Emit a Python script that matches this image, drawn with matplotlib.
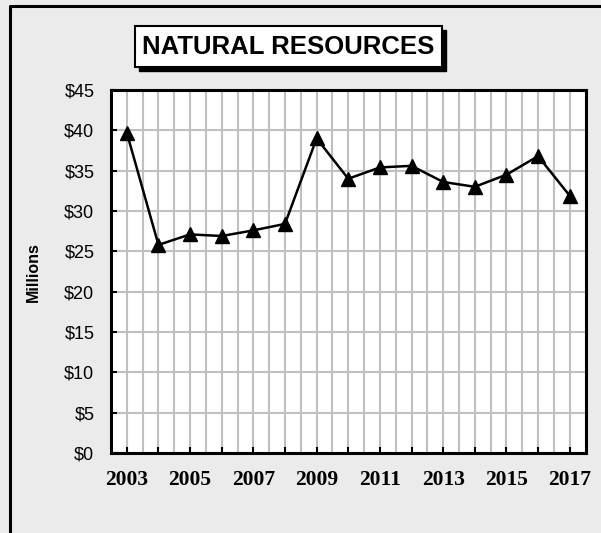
import numpy as np
import matplotlib.pyplot as plt
from matplotlib.patches import Rectangle
from matplotlib.lines import Line2D

years = [2003, 2004, 2005, 2006, 2007, 2008, 2009, 2010,
         2011, 2012, 2013, 2014, 2015, 2016, 2017]
values = [39.7, 25.8, 27.1, 26.9, 27.6, 28.4, 39.0, 34.0,
          35.4, 35.6, 33.6, 33.0, 34.5, 36.8, 31.9]
title = "NATURAL RESOURCES"
ylabel = "Millions"

W, H = 601, 533
fig = plt.figure(figsize=(W / 100, H / 100), dpi=100, facecolor="#ebebeb")

# outer frame: only left and top edges show, the rest runs off the image
fig.lines.append(Line2D([9.5 / W, 9.5 / W, 1.0], [0.0, 1 - 6 / H, 1 - 6 / H],
                        transform=fig.transFigure, color="black", linewidth=2.2))

ax = fig.add_axes([111 / W, 80 / H, 474.5 / W, 363 / H])
ax.set_facecolor("white")
ax.plot(years, values, color="black", linewidth=1.8, marker="^",
        markersize=10, markerfacecolor="black", zorder=3)

ax.set_xlim(2002.5, 2017.5)
ax.set_ylim(0, 45)
ax.set_xticks(years)
ax.set_xticklabels([str(y) if (y - 2003) % 2 == 0 else "" for y in years])
ax.set_xticks(np.arange(2002.5, 2017.6, 0.5), minor=True)
ax.set_yticks(range(0, 46, 5))
ax.set_yticklabels(["$%d" % v for v in range(0, 46, 5)])

ax.grid(True, which="both", axis="x", color="#c0c0c0", linewidth=1.5, zorder=1)
ax.grid(True, which="major", axis="y", color="#c0c0c0", linewidth=1.5, zorder=1)
ax.set_axisbelow(True)
ax.tick_params(axis="x", which="major", direction="in", length=4, width=1.5, pad=12)
ax.tick_params(axis="x", which="minor", length=0)
ax.tick_params(axis="y", direction="in", length=4, width=1.5, pad=12)
for lab in ax.get_xticklabels():
    lab.set_family("Liberation Serif")
    lab.set_weight("bold")
    lab.set_fontsize(15.5)
for lab in ax.get_yticklabels():
    lab.set_family("Liberation Sans")
    lab.set_fontsize(13)
for s in ax.spines.values():
    s.set_linewidth(2.2)
    s.set_color("black")

fig.text(33 / W, 1 - 272 / H, ylabel, rotation=90, ha="center", va="center",
         family="Liberation Sans", weight="bold", fontsize=11.5)

# title box with shadow
bx0, bx1, by0, by1 = 135, 442, 26, 67
fig.patches.append(Rectangle(((bx0 + 4) / W, 1 - (by1 + 4) / H), (bx1 - bx0) / W,
                             (by1 - by0) / H, transform=fig.transFigure,
                             facecolor="black", edgecolor="black", zorder=1))
fig.patches.append(Rectangle((bx0 / W, 1 - by1 / H), (bx1 - bx0) / W,
                             (by1 - by0) / H, transform=fig.transFigure,
                             facecolor="white", edgecolor="black", linewidth=1.5, zorder=2))
fig.text((bx0 + bx1) / 2 / W, 1 - 47 / H, title, ha="center", va="center",
         family="Liberation Sans", weight="bold", fontsize=18.5, zorder=3)

fig.savefig("out.png", dpi=100, facecolor=fig.get_facecolor())
